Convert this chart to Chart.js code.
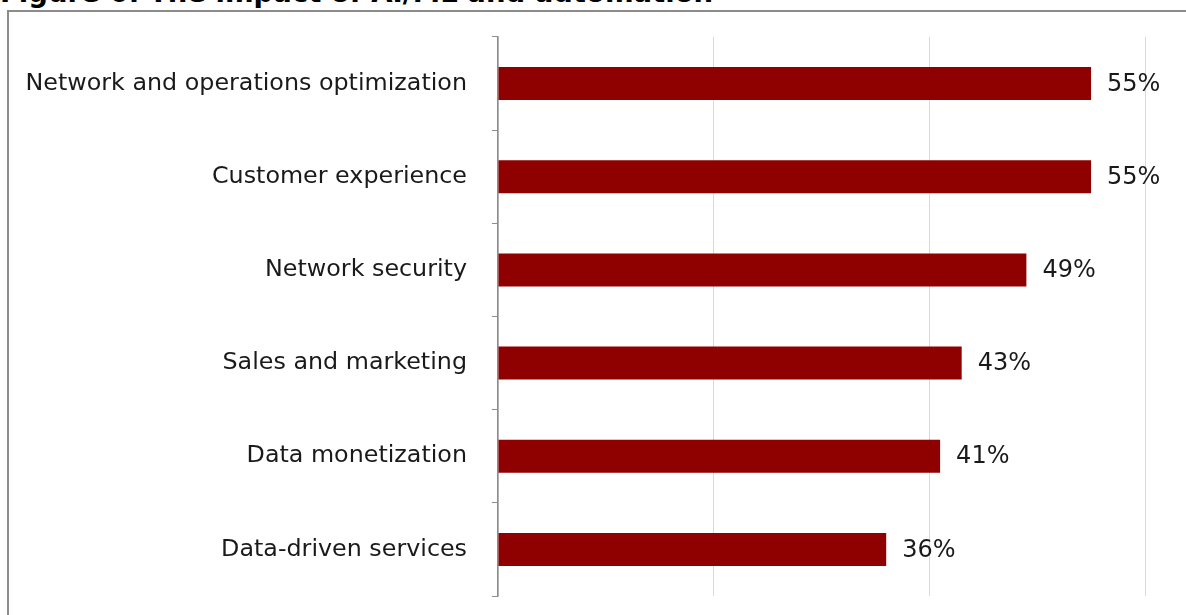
<!DOCTYPE html>
<html>
<head>
<meta charset="utf-8">
<script src="https://cdn.jsdelivr.net/npm/chart.js@4"></script>
<style>
  html, body { margin: 0; padding: 0; background: #fff; overflow: hidden; }
  body { width: 1186px; height: 615px; position: relative; font-family: "DejaVu Sans", Verdana, sans-serif; }
  #title { position: absolute; left: 0px; top: -24px; font-weight: bold; font-size: 27.5px; color: #000; white-space: nowrap; }
  #frame { position: absolute; left: 7px; top: 10px; width: 1200px; height: 640px; border: 2px solid #8c8c8c; box-sizing: border-box; }
  #wrap { position: absolute; left: 0; top: 0; width: 1186px; height: 615px; }
</style>
</head>
<body>
<div id="title">Figure 6: The impact of AI/ML and automation</div>
<div id="frame"></div>
<div id="wrap"><canvas id="c"></canvas></div>
<script>
const categories = [
  "Network and operations optimization",
  "Customer experience",
  "Network security",
  "Sales and marketing",
  "Data monetization",
  "Data-driven services"
];
const values = [55, 55, 49, 43, 41, 36];
const xTicks = [0, 20, 40, 60];

const valueLabels = {
  id: 'valueLabels',
  afterDatasetsDraw(chart) {
    const ctx = chart.ctx;
    const meta = chart.getDatasetMeta(0);
    ctx.save();
    ctx.font = '24px "DejaVu Sans", Verdana, sans-serif';
    ctx.fillStyle = '#1a1a1a';
    ctx.textAlign = 'left';
    ctx.textBaseline = 'middle';
    meta.data.forEach((bar, i) => {
      ctx.fillText(values[i] + '%', bar.x + 16, bar.y + 1);
    });
    ctx.restore();
  }
};

new Chart(document.getElementById('c'), {
  type: 'bar',
  data: {
    labels: categories,
    datasets: [{
      data: values,
      backgroundColor: '#8f0000',
      borderWidth: 0,
      categoryPercentage: 1,
      barPercentage: 0.355
    }]
  },
  options: {
    indexAxis: 'y',
    responsive: true,
    maintainAspectRatio: false,
    animation: false,
    layout: { padding: { left: 0, right: 41, top: 37, bottom: 19 } },
    plugins: { legend: { display: false }, tooltip: { enabled: false } },
    scales: {
      x: {
        min: 0, max: 60,
        afterBuildTicks(scale) { scale.ticks = xTicks.map(v => ({ value: v })); },
        afterFit(scale) { scale.height = 0; scale.paddingLeft = 0; scale.paddingRight = 0; scale.paddingTop = 0; scale.paddingBottom = 0; },
        ticks: { display: false },
        border: { display: false },
        grid: { color: '#d9d9d9', lineWidth: 1, drawTicks: false }
      },
      y: {
        afterFit(scale) { scale.width = 498; scale.paddingTop = 0; scale.paddingBottom = 0; scale.paddingLeft = 0; scale.paddingRight = 0; },
        border: { display: true, color: '#8c8c8c', width: 1.5 },
        grid: { drawOnChartArea: false, drawTicks: true, tickLength: 6, color: '#8c8c8c', offset: true },
        ticks: {
          padding: 25,
          color: '#1a1a1a',
          font: { family: '"DejaVu Sans", Verdana, sans-serif', size: 23.8 }
        }
      }
    }
  },
  plugins: [valueLabels]
});
</script>
</body>
</html>
